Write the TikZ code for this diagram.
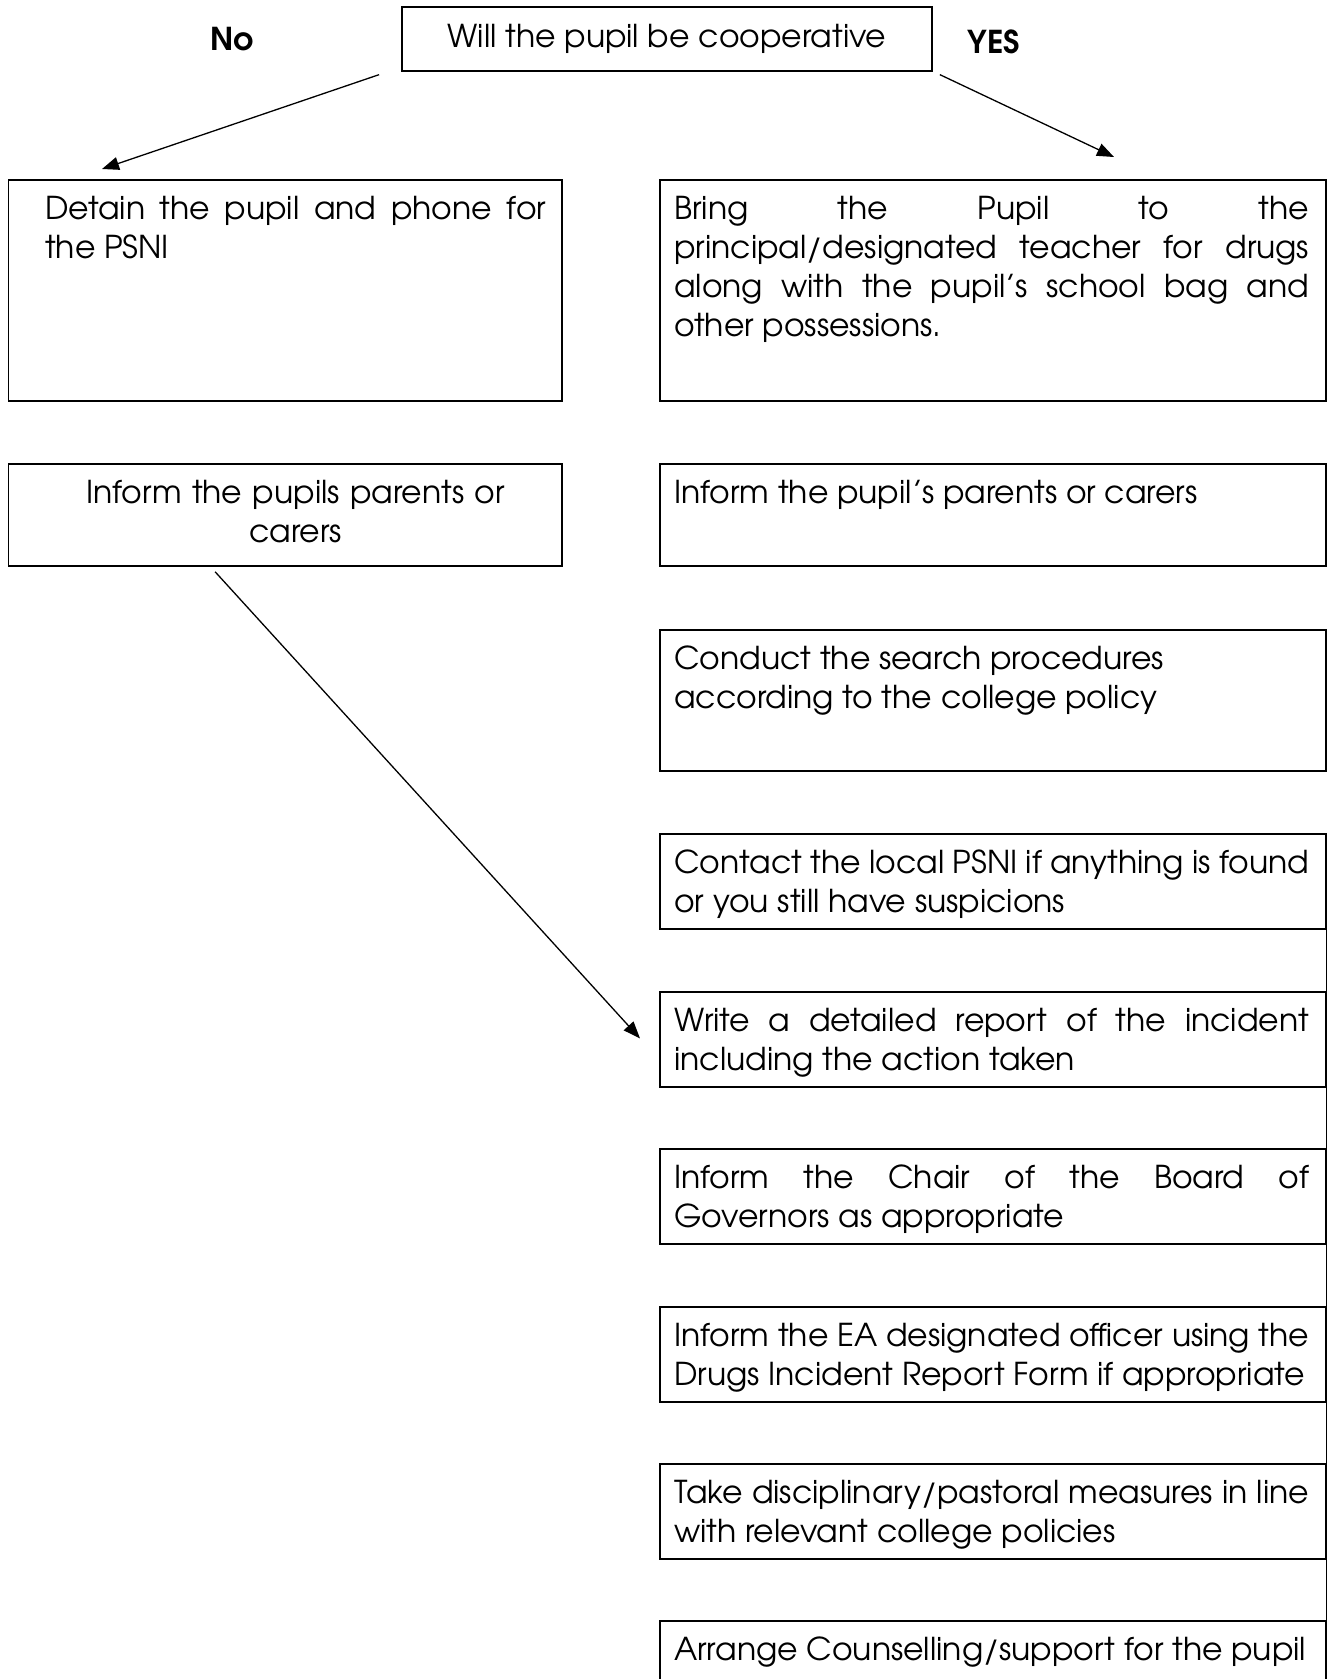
\documentclass[tikz,border=0pt]{standalone}
\usepackage{fontspec}
\setmainfont{TeX Gyre Adventor}
\usetikzlibrary{arrows.meta,positioning,calc}
\hyphenpenalty=10000
\exhyphenpenalty=10000
\tolerance=9999

\begin{document}
\begin{tikzpicture}[x=1pt, y=-1pt,
  stepbox/.style={draw, line width=1.8pt, anchor=north west, inner sep=0pt},
  leftbox/.style={stepbox, minimum width=553.5pt},
  rightbox/.style={stepbox, minimum width=666pt},
  boxtext/.style={inner sep=0pt, text width=635pt, align=justify, font=\fontsize{31.5}{39}\selectfont},
  answer/.style={font=\fontsize{31.5}{39}\selectfont\bfseries},
  arrow/.style={-{Triangle[length=17pt,width=13pt]}, line width=1.3pt}
]
  \useasboundingbox (0,0) rectangle (1327,1679);

  % the question and the two answers
  \node[draw, line width=1.8pt, minimum width=530pt, minimum height=63.5pt,
        font=\fontsize{31.5}{39}\selectfont] (q) at (667,39) {Will the pupil be cooperative};
  \node[answer] (no) at (232,39) {No};
  \node[answer] (yes) at (994,42) {YES};

  % No branch
  \node[leftbox, minimum height=221pt] (l1) at (7.5,179) {};
  \node[boxtext, text width=501pt, below right=17pt and 37.5pt of l1.north west] (l1t)
    {Detain the pupil and phone for the PSNI};
  \node[leftbox, minimum height=102pt] (l2) at (7.5,463) {};
  \node[boxtext, text width=501pt, align=center, below right=17pt and 37.5pt of l2.north west] (l2t)
    {Inform the pupils parents or\\carers};

  % YES branch
  \node[rightbox, minimum height=221pt] (r1) at (659,179) {};
  \node[boxtext, below right=17pt and 15pt of r1.north west] (r1t)
    {Bring the Pupil to the\linebreak principal/designated teacher for drugs\linebreak along with the pupil’s school bag and\linebreak other possessions.};
  \node[rightbox, minimum height=102pt] (r2) at (659,463) {};
  \node[boxtext, below right=17pt and 15pt of r2.north west] (r2t)
    {Inform the pupil’s parents or carers};
  \node[rightbox, minimum height=141pt] (r3) at (659,629) {};
  \node[boxtext, below right=17pt and 15pt of r3.north west] (r3t)
    {Conduct the search procedures\\according to the college policy};
  \node[rightbox, minimum height=95pt] (r4) at (659,833) {};
  \node[boxtext, below right=17pt and 15pt of r4.north west] (r4t)
    {Contact the local PSNI if anything is found or you still have suspicions};
  \node[rightbox, minimum height=95pt] (r5) at (659,991) {};
  \node[boxtext, below right=17pt and 15pt of r5.north west] (r5t)
    {Write a detailed report of the incident including the action taken};
  \node[rightbox, minimum height=95pt] (r6) at (659,1148) {};
  \node[boxtext, below right=17pt and 15pt of r6.north west] (r6t)
    {Inform the Chair of the Board of\linebreak Governors as appropriate};
  \node[rightbox, minimum height=95pt] (r7) at (659,1306) {};
  \node[boxtext, below right=17pt and 15pt of r7.north west] (r7t)
    {Inform the EA designated officer using the Drugs Incident Report Form if appropriate};
  \node[rightbox, minimum height=95pt] (r8) at (659,1463) {};
  \node[boxtext, below right=17pt and 15pt of r8.north west] (r8t)
    {Take disciplinary/pastoral measures in line with relevant college policies};
  \node[rightbox, minimum height=95pt] (r9) at (659,1620) {};
  \node[boxtext, below right=17pt and 15pt of r9.north west] (r9t)
    {Arrange Counselling/support for the pupil};

  % line down the right side
  \coordinate (spineend) at ($(r4.south east)+(0,800)$);
  \draw[line width=1.8pt] (r4.south east) -- (spineend);

  % arrows
  \draw[arrow] ($(q.south west)+(-22,3)$) -- ($(l1.north west)+(94.5,-10)$);
  \draw[arrow] ($(q.south east)+(7,3)$) -- ($(r1.north west)+(455,-22)$);
  \draw[arrow] ($(l2.south)+(-70,5)$) -- ($(r5.west)+(-19,-1)$);
\end{tikzpicture}
\end{document}
